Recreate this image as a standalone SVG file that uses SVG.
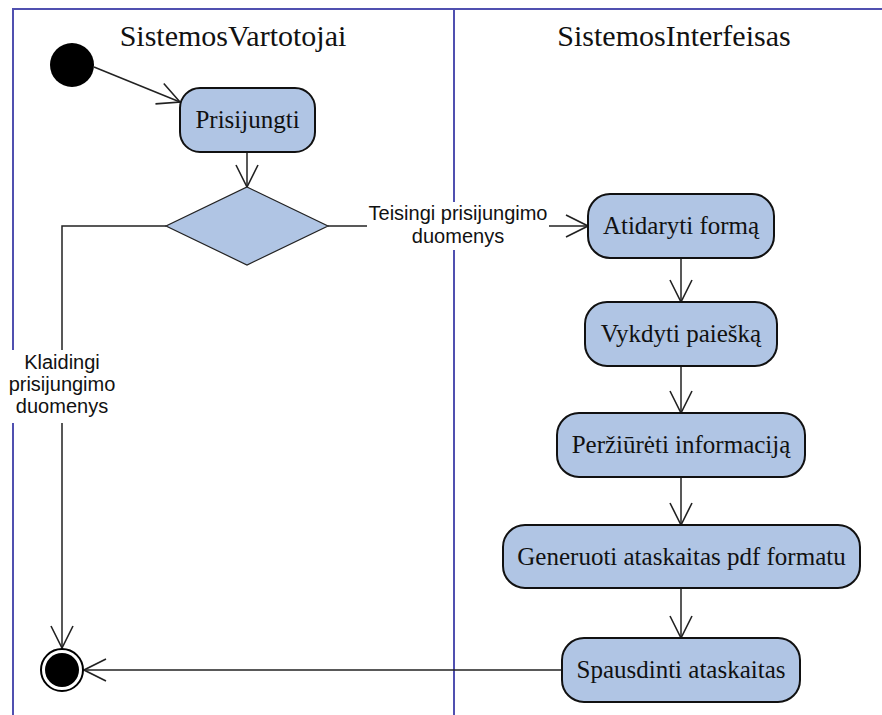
<svg xmlns="http://www.w3.org/2000/svg" width="882" height="715" viewBox="0 0 882 715">
  <style>
    .lane { stroke: #5050b0; stroke-width: 2; fill: none; }
    .title { font-family: "Liberation Serif", "Times New Roman", serif; font-size: 30px; fill: #111; text-anchor: middle; }
    .act rect { fill: #b0c5e4; stroke: #111; stroke-width: 2; }
    .act text { font-family: "Liberation Serif", "Times New Roman", serif; font-size: 25px; fill: #111; text-anchor: middle; }
    .flow { stroke: #222; stroke-width: 1.5; fill: none; }
    .lbl { font-family: "Liberation Sans", Arial, sans-serif; font-size: 20px; fill: #111; text-anchor: middle; }
  </style>
  <defs>
    <marker id="open" viewBox="0 0 24 24" refX="23" refY="12" markerWidth="24" markerHeight="24" markerUnits="userSpaceOnUse" orient="auto">
      <path d="M1,1 L23,12 L1,23" fill="none" stroke="#222" stroke-width="1.6"/>
    </marker>
  </defs>
  <rect width="882" height="715" fill="#fff"/>

  <!-- swimlanes -->
  <g id="lanes">
    <path class="lane" d="M13,715 V9 H882"/>
    <path class="lane" d="M454,9 V715"/>
    <text class="title" x="233" y="46">SistemosVartotojai</text>
    <text class="title" x="674" y="46">SistemosInterfeisas</text>
  </g>

  <!-- connectors -->
  <g id="connectors">
    <path class="flow" d="M94,67 L180,102" marker-end="url(#open)"/>
    <path class="flow" d="M247,152 V187" marker-end="url(#open)"/>
    <path class="flow" d="M328,226 H588" marker-end="url(#open)"/>
    <path class="flow" d="M166,226 H62 V648" marker-end="url(#open)"/>
    <path class="flow" d="M681,258 V302" marker-end="url(#open)"/>
    <path class="flow" d="M681,366 V413" marker-end="url(#open)"/>
    <path class="flow" d="M681,477 V525" marker-end="url(#open)"/>
    <path class="flow" d="M681,588 V638" marker-end="url(#open)"/>
    <path class="flow" d="M562,670 H84" marker-end="url(#open)"/>
    <!-- guard labels -->
    <rect x="367" y="202" width="182" height="48" fill="#fff"/>
    <text class="lbl" x="458" y="220">Teisingi prisijungimo</text>
    <text class="lbl" x="458" y="243">duomenys</text>
    <rect x="5" y="350" width="115" height="73" fill="#fff"/>
    <text class="lbl" x="62" y="369">Klaidingi</text>
    <text class="lbl" x="62" y="391">prisijungimo</text>
    <text class="lbl" x="62" y="413">duomenys</text>
  </g>

  <g id="start">
    <circle cx="72" cy="65" r="22" fill="#000"/>
  </g>

  <g id="prisijungti" class="act">
    <rect x="180" y="88" width="135" height="64" rx="20"/>
    <text x="247.5" y="128">Prisijungti</text>
  </g>

  <g id="decision">
    <polygon points="247,187 328,226 247,265 166,226" fill="#b0c5e4" stroke="#222" stroke-width="1.2"/>
  </g>

  <g id="atidaryti" class="act">
    <rect x="588" y="194" width="186" height="64" rx="22"/>
    <text x="681" y="234">Atidaryti formą</text>
  </g>

  <g id="vykdyti" class="act">
    <rect x="585" y="302" width="192" height="64" rx="22"/>
    <text x="681" y="342">Vykdyti paiešką</text>
  </g>

  <g id="perziureti" class="act">
    <rect x="557" y="413" width="248" height="64" rx="22"/>
    <text x="681" y="453">Peržiūrėti informaciją</text>
  </g>

  <g id="generuoti" class="act">
    <rect x="503" y="525" width="357" height="63" rx="22"/>
    <text x="681.5" y="565">Generuoti ataskaitas pdf formatu</text>
  </g>

  <g id="spausdinti" class="act">
    <rect x="562" y="638" width="238" height="64" rx="22"/>
    <text x="681" y="678">Spausdinti ataskaitas</text>
  </g>

  <g id="end">
    <circle cx="62" cy="670" r="21" fill="#fff" stroke="#000" stroke-width="2"/>
    <circle cx="62" cy="670" r="17" fill="#000"/>
  </g>
</svg>
